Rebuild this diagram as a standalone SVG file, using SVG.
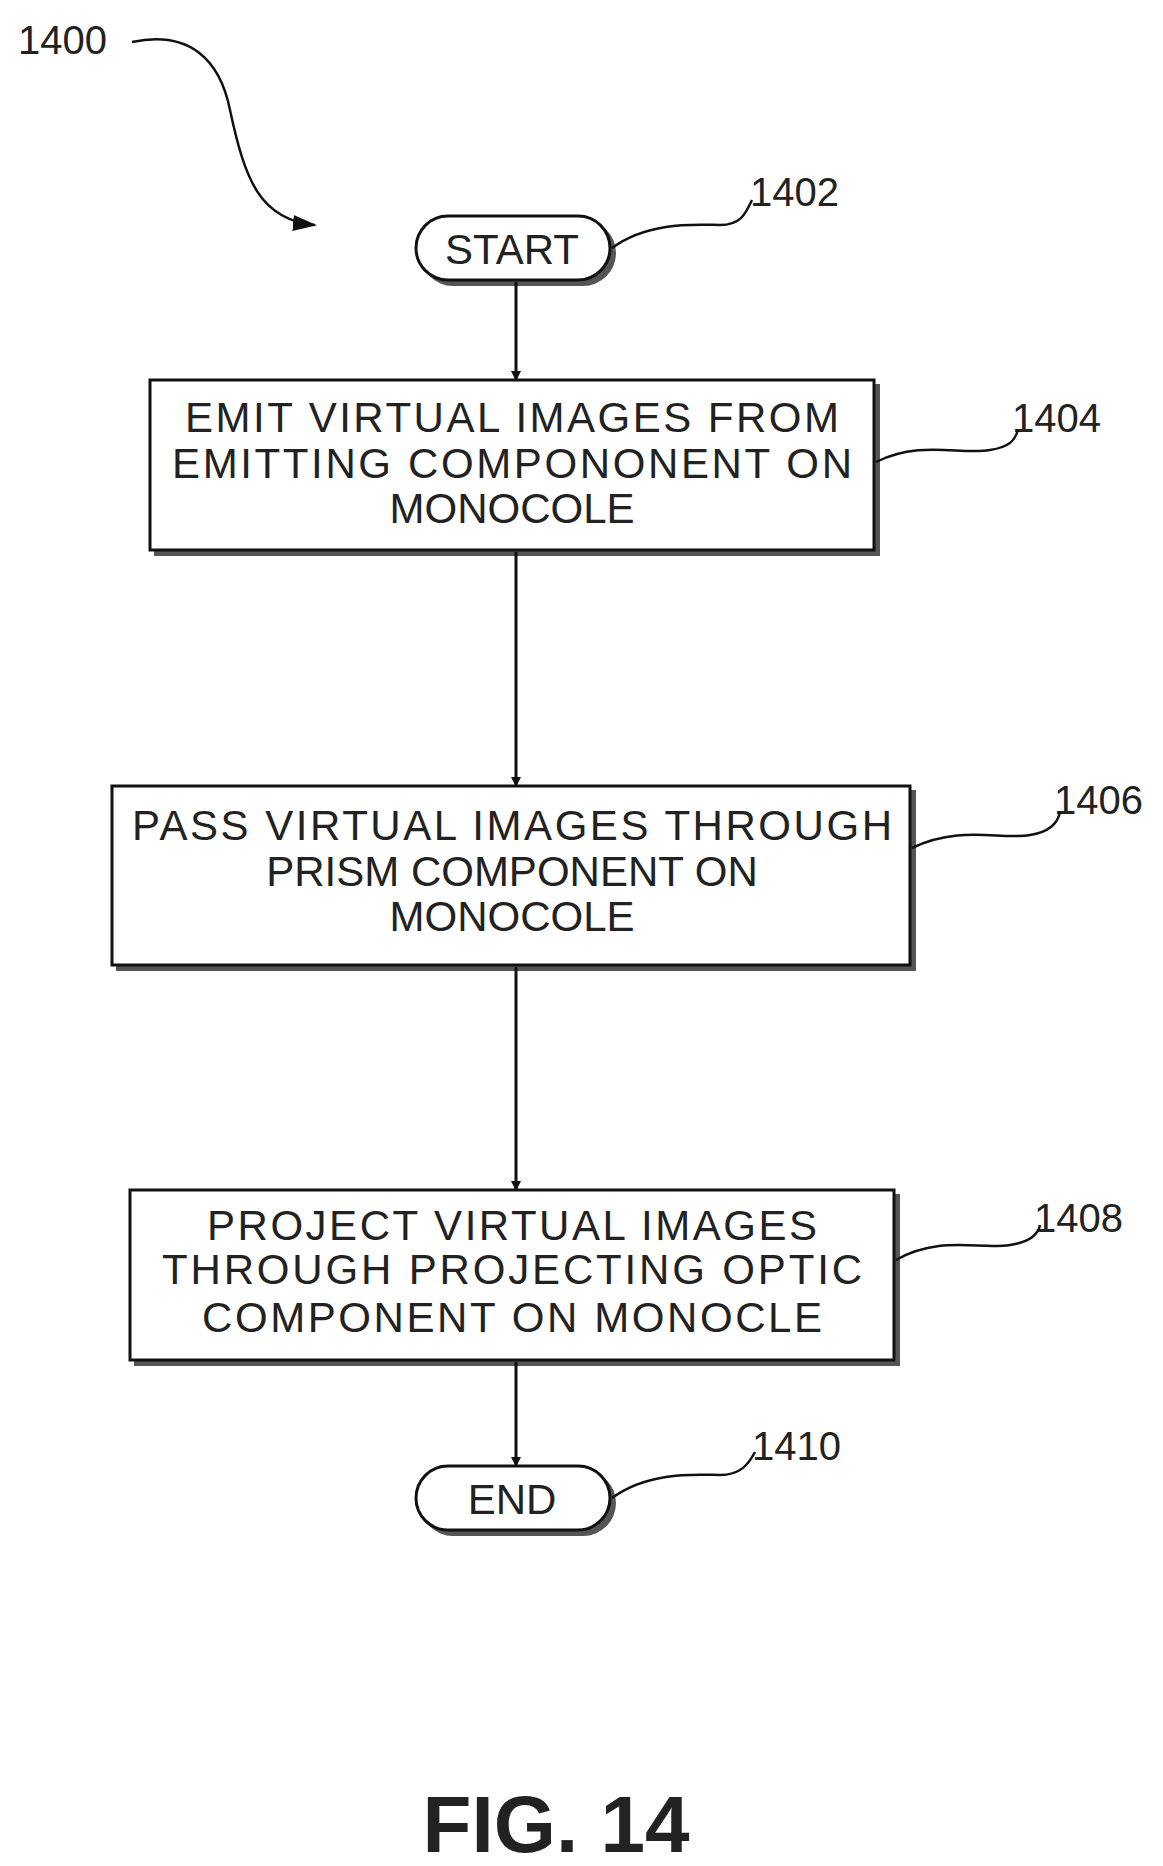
<svg xmlns="http://www.w3.org/2000/svg" width="1163" height="1866" viewBox="0 0 1163 1866">
<style>
text{font-family:"Liberation Sans",Arial,sans-serif;fill:#222}
.t{font-size:42px;text-anchor:middle}
.l{font-size:40px}
.box{fill:#fff;stroke:#111;stroke-width:3}
.sh{fill:#555}
.ld{fill:none;stroke:#111;stroke-width:2.5}
.ar{stroke:#111;stroke-width:3;marker-end:url(#ah)}
</style>
<defs><marker id="ah" markerWidth="10" markerHeight="10" refX="9" refY="5" orient="auto" markerUnits="userSpaceOnUse" viewBox="0 0 10 10"><path d="M0,0L10,5L0,10z" fill="#111"/></marker>
<marker id="ah2" markerWidth="24" markerHeight="20" refX="22" refY="10" orient="auto" markerUnits="userSpaceOnUse"><path d="M0,2L24,10L0,18z" fill="#111"/></marker></defs>
<rect width="1163" height="1866" fill="#fff"/>
<g id="ref1400"><text class="l" x="18" y="54">1400</text><path class="ld" d="M132,42 C190,30 220,60 230,110 C245,180 260,220 315,225" marker-end="url(#ah2)"/></g>
<g id="n1402"><rect x="420" y="220" width="196" height="66" rx="33" class="sh"/><rect x="416" y="216" width="194" height="64" rx="32" class="box"/><text class="t" x="512" y="264">START</text><text class="l" x="750" y="206">1402</text><path class="ld" d="M612,248 C650,220 700,225 720,225 C740,225 745,215 752,200"/></g>
<g id="n1404"><rect x="154" y="384" width="726" height="172" class="sh"/><rect x="150" y="380" width="724" height="170" class="box"/><text class="t" x="512" y="432" textLength="654">EMIT VIRTUAL IMAGES FROM</text><text class="t" x="512" y="478" textLength="680">EMITTING COMPONONENT ON</text><text class="t" x="512" y="523">MONOCOLE</text><text class="l" x="1012" y="432">1404</text><path class="ld" d="M876,462 C920,440 960,455 990,450 C1010,447 1015,440 1018,430"/></g>
<g id="n1406"><rect x="116" y="790" width="800" height="181" class="sh"/><rect x="112" y="786" width="798" height="179" class="box"/><text class="t" x="512" y="840" textLength="760">PASS VIRTUAL IMAGES THROUGH</text><text class="t" x="512" y="886">PRISM COMPONENT ON</text><text class="t" x="512" y="931">MONOCOLE</text><text class="l" x="1054" y="814">1406</text><path class="ld" d="M912,848 C960,825 1000,840 1030,835 C1050,832 1058,822 1060,812"/></g>
<g id="n1408"><rect x="134" y="1194" width="766" height="172" class="sh"/><rect x="130" y="1190" width="764" height="170" class="box"/><text class="t" x="512" y="1240" textLength="610">PROJECT VIRTUAL IMAGES</text><text class="t" x="512" y="1284" textLength="700">THROUGH PROJECTING OPTIC</text><text class="t" x="512" y="1332" textLength="620">COMPONENT ON MONOCLE</text><text class="l" x="1034" y="1232">1408</text><path class="ld" d="M896,1260 C940,1235 980,1250 1010,1245 C1030,1242 1038,1235 1040,1225"/></g>
<g id="n1410"><rect x="420" y="1470" width="196" height="66" rx="33" class="sh"/><rect x="416" y="1466" width="194" height="64" rx="32" class="box"/><text class="t" x="512" y="1514">END</text><text class="l" x="752" y="1460">1410</text><path class="ld" d="M612,1498 C650,1470 700,1475 720,1475 C740,1475 748,1465 755,1452"/></g>
<g id="connectors">
<line class="ar" x1="516" y1="282" x2="516" y2="380" marker-end="url(#ah2)"/>
<line class="ar" x1="516" y1="552" x2="516" y2="786" marker-end="url(#ah2)"/>
<line class="ar" x1="516" y1="967" x2="516" y2="1190" marker-end="url(#ah2)"/>
<line class="ar" x1="516" y1="1362" x2="516" y2="1466" marker-end="url(#ah2)"/>
</g>
<text x="556" y="1852" style="font-size:80px;font-weight:bold;text-anchor:middle">FIG. 14</text>
</svg>
